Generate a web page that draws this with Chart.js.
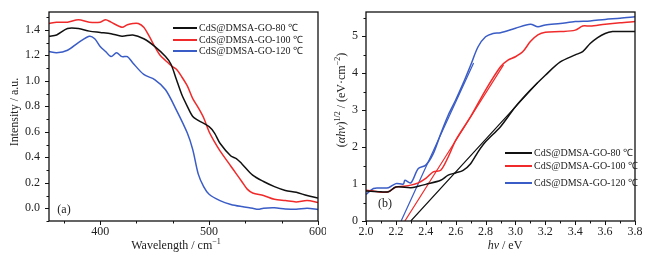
<!DOCTYPE html>
<html>
<head>
<meta charset="utf-8">
<script src="https://cdn.jsdelivr.net/npm/chart.js@4"></script>
<style>
body{margin:0;background:#fff;width:648px;height:257px;overflow:hidden;position:relative}
canvas{position:absolute;top:0}
#ca{left:0}
#cb{left:322px}
</style>
</head>
<body>
<canvas id="ca" width="326" height="257"></canvas>
<canvas id="cb" width="326" height="257"></canvas>
<script>
// ---- panel (a): absorption spectra ----
var wl80  = [353,360,370,380,390,400,410,420,430,440,450,460,465,470,475,480,485,490,500,505,510,520,525,530,540,550,560,570,580,590,600];
var int80 = [1.35,1.36,1.41,1.41,1.39,1.38,1.37,1.35,1.36,1.33,1.27,1.19,1.13,1.01,0.89,0.80,0.72,0.69,0.64,0.59,0.51,0.41,0.39,0.35,0.26,0.21,0.17,0.14,0.125,0.10,0.08];
var wl100  = [353,360,370,380,390,400,405,410,420,425,430,435,440,445,450,455,460,465,470,475,480,485,490,495,500,505,510,520,525,530,535,540,550,560,570,580,590,600];
var int100 = [1.45,1.46,1.46,1.48,1.46,1.46,1.48,1.46,1.42,1.44,1.45,1.45,1.42,1.35,1.27,1.20,1.16,1.12,1.09,1.03,0.96,0.86,0.79,0.71,0.60,0.52,0.45,0.33,0.27,0.21,0.15,0.12,0.10,0.07,0.06,0.05,0.06,0.045];
var wl120  = [353,360,370,380,390,395,400,405,410,415,420,425,430,440,450,460,470,480,485,490,495,500,510,520,530,540,545,550,560,570,580,590,600];
var int120 = [1.23,1.22,1.24,1.30,1.35,1.33,1.27,1.23,1.19,1.22,1.19,1.19,1.14,1.05,1.01,0.93,0.77,0.59,0.46,0.27,0.17,0.11,0.06,0.03,0.013,0.0,-0.008,0,0.003,-0.005,-0.008,0,-0.01];

// ---- panel (b): Tauc plots ----
var ev80   = [2.0,2.1,2.15,2.2,2.3,2.35,2.4,2.5,2.55,2.6,2.65,2.7,2.75,2.8,2.9,3.0,3.1,3.2,3.3,3.4,3.45,3.5,3.55,3.6,3.65,3.7,3.8];
var tauc80 = [0.81,0.79,0.79,0.92,0.90,0.94,0.99,1.10,1.24,1.30,1.37,1.55,1.87,2.14,2.55,3.09,3.54,3.94,4.30,4.49,4.58,4.80,4.96,5.07,5.12,5.12,5.12];
var ev100   = [2.0,2.05,2.1,2.15,2.2,2.25,2.3,2.35,2.4,2.45,2.5,2.55,2.6,2.7,2.8,2.9,2.95,3.0,3.05,3.1,3.15,3.2,3.3,3.4,3.45,3.5,3.6,3.7,3.8];
var tauc100 = [0.83,0.81,0.78,0.79,0.92,0.94,0.97,1.03,1.15,1.33,1.37,1.73,2.18,2.82,3.54,4.17,4.35,4.44,4.58,4.85,5.03,5.10,5.12,5.16,5.27,5.27,5.32,5.36,5.39];
var ev120   = [2.0,2.05,2.1,2.15,2.2,2.25,2.26,2.3,2.35,2.4,2.45,2.5,2.55,2.6,2.65,2.7,2.75,2.8,2.85,2.9,3.0,3.1,3.15,3.2,3.3,3.4,3.5,3.6,3.7,3.8];
var tauc120 = [0.72,0.88,0.89,0.90,1.01,1.00,1.10,1.03,1.42,1.51,1.82,2.36,2.86,3.27,3.72,4.21,4.71,4.98,5.07,5.09,5.21,5.32,5.25,5.30,5.34,5.39,5.41,5.45,5.48,5.52];
// band-gap tangent lines
var fit80X  = [2.30, 3.15], fit80Y  = [0, 3.75];
var fit100X = [2.26, 2.92], fit100Y = [0, 4.22];
var fit120X = [2.235, 2.72], fit120Y = [0, 4.27];

var seriesNames = ['CdS@DMSA-GO-80 \u2103', 'CdS@DMSA-GO-100 \u2103', 'CdS@DMSA-GO-120 \u2103'];
var seriesColors = ['#111111', '#f02a2a', '#3a5cc6'];

// tick labels
var aXTicks = [400, 500, 600];
var aYTicks = [0.0, 0.2, 0.4, 0.6, 0.8, 1.0, 1.2, 1.4];
var bXTicks = [2.0, 2.2, 2.4, 2.6, 2.8, 3.0, 3.2, 3.4, 3.6, 3.8];
var bYTicks = [0, 1, 2, 3, 4, 5];

var FONT = "'Liberation Serif', 'Times New Roman', serif";
Chart.defaults.font.family = FONT;
Chart.defaults.font.size = 12;
Chart.defaults.color = '#222';

function pts(xs, ys) {
  return xs.map(function (x, i) { return {x: x, y: ys[i]}; });
}

function line(label, xs, ys, color, width) {
  return {label: label, data: pts(xs, ys), borderColor: color, backgroundColor: color,
    borderWidth: width || 1.5, pointRadius: 0, showLine: true, tension: 0.3, fill: false};
}

function axis(majors, sub, min, max, dec, pad, size, isX) {
  var step = majors[1] - majors[0];
  var m = step / sub;
  var list = [];
  for (var k = -50; k < 200; k++) {
    var v = majors[0] + k * m;
    if (v >= min - 1e-9 && v <= max + 1e-9) list.push(+v.toFixed(6));
  }
  return {
    type: 'linear', min: min, max: max,
    grid: {display: false, drawTicks: false},
    border: {display: false},
    afterBuildTicks: function (s) { s.ticks = list.map(function (v) { return {value: v}; }); },
    afterFit: function (s) {
      if (isX) s.height = size; else s.width = size;
      // let the layout padding alone decide the plot box
      s.paddingTop = s.paddingBottom = s.paddingLeft = s.paddingRight = 0;
    },
    ticks: {
      autoSkip: false, maxRotation: 0, padding: pad,
      font: {family: FONT, size: 12},
      callback: function (value) {
        var r = (value - majors[0]) / m;
        return Math.abs(r - Math.round(r)) < 1e-6 && Math.round(r) % sub === 0 ? value.toFixed(dec) : '';
      }
    }
  };
}

function runFont(r, size) {
  return (r.it ? 'italic ' : '') + (r.sup ? Math.round(size * 0.68) : size) + 'px ' + FONT;
}

function drawRuns(ctx, runs, x, y, size, rot) {
  var w = 0;
  runs.forEach(function (r) { ctx.font = runFont(r, size); r.w = ctx.measureText(r.t).width; w += r.w; });
  ctx.save();
  ctx.translate(x, y);
  if (rot) ctx.rotate(-Math.PI / 2);
  ctx.textAlign = 'left';
  ctx.textBaseline = 'middle';
  ctx.fillStyle = '#222';
  var cx = -w / 2;
  runs.forEach(function (r) {
    ctx.font = runFont(r, size);
    ctx.fillText(r.t, cx, r.sup ? -size * 0.35 : 0);
    cx += r.w;
  });
  ctx.restore();
}

var framePlugin = {
  id: 'frame',
  afterDatasetsDraw: function (chart, args, opts) {
    var ctx = chart.ctx, a = chart.chartArea;
    var xs = chart.scales.x, ys = chart.scales.y;
    ctx.save();
    ctx.strokeStyle = '#111';
    ctx.lineWidth = 1.3;
    ctx.strokeRect(a.left, a.top, a.right - a.left, a.bottom - a.top);
    // outward ticks
    ctx.lineWidth = 1;
    ctx.beginPath();
    xs.ticks.forEach(function (t) {
      var p = Math.round(xs.getPixelForValue(t.value)) + 0.5;
      ctx.moveTo(p, a.bottom);
      ctx.lineTo(p, a.bottom + (t.label ? 4 : 2.5));
    });
    ys.ticks.forEach(function (t) {
      var p = Math.round(ys.getPixelForValue(t.value)) + 0.5;
      ctx.moveTo(a.left, p);
      ctx.lineTo(a.left - (t.label ? 4 : 2.5), p);
    });
    ctx.stroke();
    // legend
    var lg = opts.legend, row = 0;
    ctx.font = '10px ' + FONT;
    ctx.textBaseline = 'middle';
    ctx.textAlign = 'left';
    chart.data.datasets.forEach(function (d) {
      if (!d.label) return;
      var y = lg.ys[row++];
      ctx.strokeStyle = d.borderColor;
      ctx.lineWidth = 2;
      ctx.beginPath();
      ctx.moveTo(lg.x, y);
      ctx.lineTo(lg.x + lg.len, y);
      ctx.stroke();
      ctx.fillStyle = '#222';
      ctx.fillText(d.label, lg.x + lg.len + 2, y + 0.5);
    });
    // axis titles and panel tag
    opts.titles.forEach(function (t) { drawRuns(ctx, t.runs, t.x, t.y, t.size, t.rot); });
    ctx.restore();
  }
};

new Chart(document.getElementById('ca'), {
  type: 'scatter',
  data: {datasets: [
    line(seriesNames[0], wl80, int80, seriesColors[0]),
    line(seriesNames[1], wl100, int100, seriesColors[1]),
    line(seriesNames[2], wl120, int120, seriesColors[2])
  ]},
  options: {
    responsive: false, animation: false,
    layout: {padding: {top: 12, right: 8, left: 0, bottom: 0}},
    plugins: {
      legend: {display: false}, tooltip: {enabled: false},
      frame: {
        legend: {x: 173, len: 24, ys: [28, 40, 51]},
        titles: [
          {runs: [{t: 'Intensity / a.u.'}], x: 15, y: 112, size: 12, rot: true},
          {runs: [{t: 'Wavelength / cm'}, {t: '\u22121', sup: 1}], x: 176, y: 246, size: 12},
          {runs: [{t: '(a)'}], x: 64, y: 210, size: 12}
        ]
      }
    },
    scales: {
      x: axis(aXTicks, 3, 353, 600, 0, 4, 36, true),
      y: axis(aYTicks, 2, -0.1, 1.54, 1, 9, 49, false)
    }
  },
  plugins: [framePlugin]
});

new Chart(document.getElementById('cb'), {
  type: 'scatter',
  data: {datasets: [
    line(seriesNames[0], ev80, tauc80, seriesColors[0]),
    line(seriesNames[1], ev100, tauc100, seriesColors[1]),
    line(seriesNames[2], ev120, tauc120, seriesColors[2]),
    line('', fit80X, fit80Y, seriesColors[0], 1.2),
    line('', fit100X, fit100Y, seriesColors[1], 1.2),
    line('', fit120X, fit120Y, seriesColors[2], 1.2)
  ]},
  options: {
    responsive: false, animation: false,
    layout: {padding: {top: 12, right: 13, left: 0, bottom: 0}},
    plugins: {
      legend: {display: false}, tooltip: {enabled: false},
      frame: {
        legend: {x: 183, len: 27, ys: [153, 166, 183]},
        titles: [
          {runs: [{t: '('}, {t: '\u03b1h\u03bd', it: 1}, {t: ')'}, {t: '1/2', sup: 1}, {t: ' / (eV\u00b7cm'}, {t: '\u22122', sup: 1}, {t: ')'}], x: 20, y: 100, size: 12, rot: true},
          {runs: [{t: 'h\u03bd', it: 1}, {t: ' / eV'}], x: 183, y: 246, size: 12},
          {runs: [{t: '(b)'}], x: 63, y: 204, size: 12}
        ]
      }
    },
    scales: {
      x: axis(bXTicks, 2, 2.0, 3.8, 1, 4, 36, true),
      y: axis(bYTicks, 2, 0, 5.65, 0, 8, 44, false)
    }
  },
  plugins: [framePlugin]
});
</script>
</body>
</html>
